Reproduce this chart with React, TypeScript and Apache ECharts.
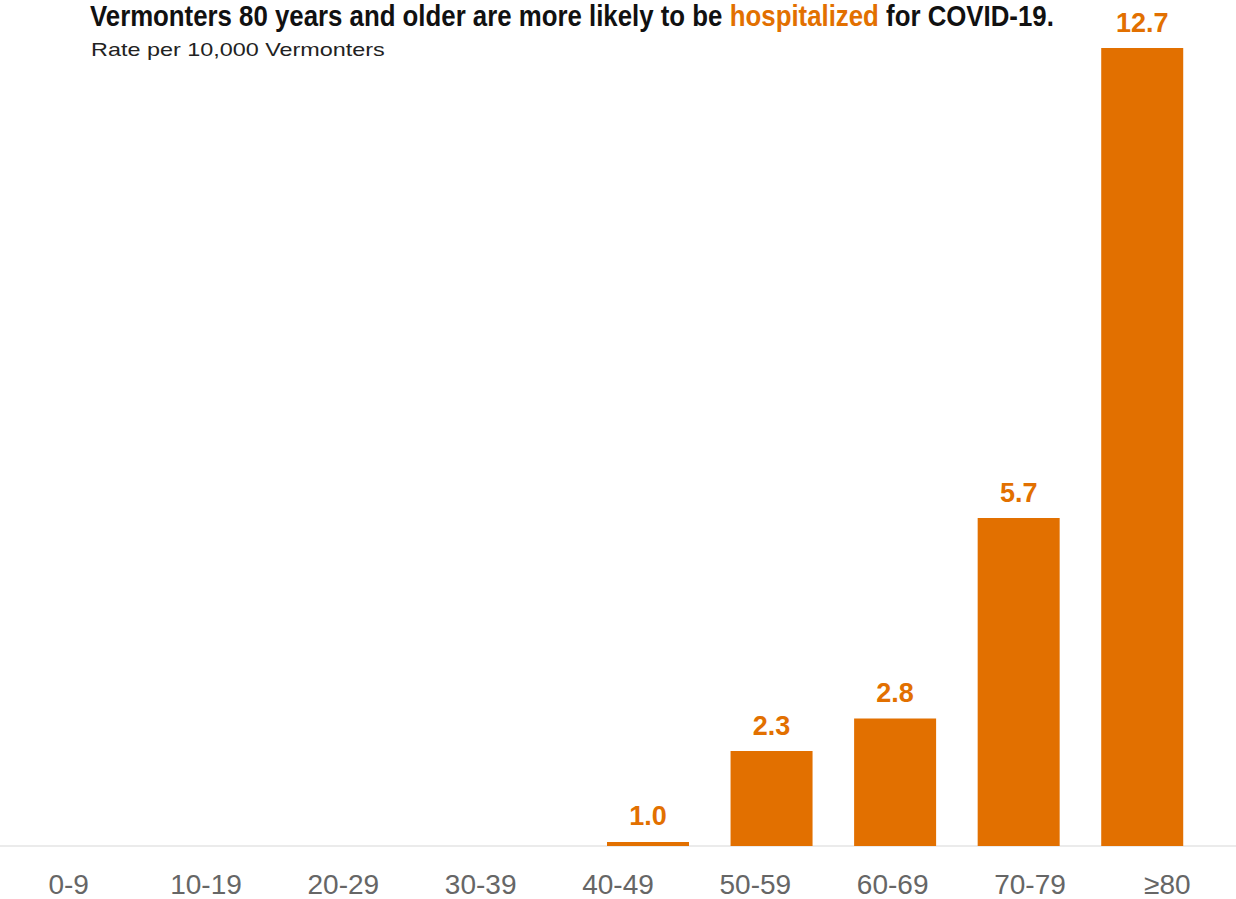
import React, { useEffect, useRef } from "react";
import * as echarts from "echarts";

const ageGroups = ["0-9", "10-19", "20-29", "30-39", "40-49", "50-59", "60-69", "70-79", "≥80"];
// Bar heights as drawn in the reference (rate units on the drawn scale)
const barHeights = [0, 0, 0, 0, 0.064, 1.51, 2.03, 5.22, 12.7];
// Printed rate labels per 10,000
const rateLabels = ["", "", "", "", "1.0", "2.3", "2.8", "5.7", "12.7"];

const titleParts = ["Vermonters 80 years and older are more likely to be ", "hospitalized", " for COVID-19."];
const subtitle = "Rate per 10,000 Vermonters";

const ORANGE = "#E27000";

export default function App() {
  const ref = useRef<HTMLDivElement>(null);
  useEffect(() => {
    if (!ref.current) return;
    const chart = echarts.init(ref.current, null, { renderer: "svg" });
    chart.setOption({
      animation: false,
      backgroundColor: "#ffffff",
      grid: [
        { left: 92, right: 32, top: 48, bottom: 53 },
        { left: 0, right: 0, top: 48, bottom: 53 },
      ],
      xAxis: [
        {
          type: "category",
          gridIndex: 0,
          data: ageGroups,
          axisLine: { show: false },
          axisTick: { show: false },
          axisLabel: { show: false },
        },
        {
          type: "category",
          gridIndex: 1,
          data: ageGroups,
          axisLine: { show: true, lineStyle: { color: "#ebebeb", width: 2 } },
          axisTick: { show: false },
          axisLabel: {
            color: "#666666",
            fontSize: 28,
            fontFamily: "Liberation Sans, Arial, sans-serif",
            margin: 24,
          },
        },
      ],
      yAxis: [
        { type: "value", gridIndex: 0, min: 0, max: 12.7, show: false, splitLine: { show: false } },
        { type: "value", gridIndex: 1, min: 0, max: 12.7, show: false, splitLine: { show: false } },
      ],
      series: [
        {
          type: "bar",
          xAxisIndex: 0,
          yAxisIndex: 0,
          data: barHeights,
          barWidth: 82,
          itemStyle: { color: ORANGE },
          label: {
            show: true,
            position: "top",
            distance: 12,
            color: ORANGE,
            fontSize: 27,
            fontWeight: "bold",
            fontFamily: "Liberation Sans, Arial, sans-serif",
            formatter: (p: any) => rateLabels[p.dataIndex],
          },
        },
      ],
      graphic: [
        {
          type: "text",
          x: 90,
          y: 16,
          scaleX: 0.89,
          style: {
            text: `{b|${titleParts[0]}}{o|${titleParts[1]}}{b|${titleParts[2]}}`,
            verticalAlign: "middle",
            align: "left",
            rich: {
              b: { fontSize: 29, lineHeight: 27, fontWeight: "bold", fill: "#111111", fontFamily: "Liberation Sans, Arial, sans-serif" },
              o: { fontSize: 29, lineHeight: 27, fontWeight: "bold", fill: ORANGE, fontFamily: "Liberation Sans, Arial, sans-serif" },
            },
          },
        },
        {
          type: "text",
          x: 91,
          y: 50,
          scaleX: 1.3,
          style: {
            text: subtitle,
            fontSize: 18,
            fill: "#222222",
            fontFamily: "Liberation Sans, Arial, sans-serif",
            verticalAlign: "middle",
            align: "left",
          },
        },
      ],
    });
    return () => chart.dispose();
  }, []);
  return <div ref={ref} style={{ position: "fixed", left: 0, top: 0, width: 1236, height: 899 }} />;
}
